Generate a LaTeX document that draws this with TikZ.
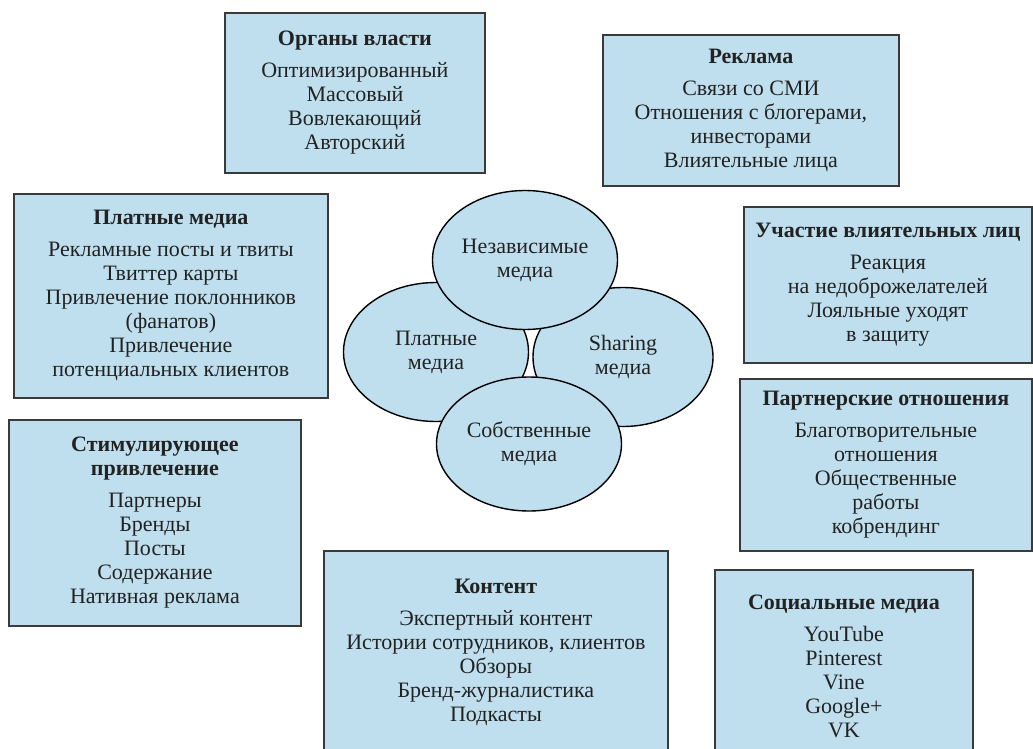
\documentclass[tikz,border=0pt]{standalone}
\usepackage{fontspec}
\setmainfont{Liberation Serif}
\usetikzlibrary{shapes.geometric}
\definecolor{panel-fill}{RGB}{191,223,238}
\definecolor{panel-line}{RGB}{58,58,58}
\definecolor{ink}{RGB}{34,34,34}

\begin{document}
\begin{tikzpicture}[x=0.5pt, y=-0.5pt, font=\fontsize{11}{12}\selectfont, text=ink,
panel/.style 2 args={draw=panel-line, line width=0.9pt, fill=panel-fill, align=center, anchor=north west, inner sep=0pt, minimum width=#1, minimum height=#2},
blob/.style={ellipse, draw=black, line width=0.7pt, fill=panel-fill, align=center, inner sep=0pt, minimum width=92.5pt, minimum height=69.5pt}]
\useasboundingbox (0,0) rectangle (1033,749);
\clip (0,0) rectangle (1033,749);

% panels
\node [panel={130pt}{80pt}] (organy) at (224,12) {\textbf{Органы власти}\\[4pt]
Оптимизированный\\ Массовый\\ Вовлекающий\\ Авторский};
\node [panel={148pt}{75.5pt}] (reklama) at (602,34) {\textbf{Реклама}\\[4pt]
Связи со СМИ\\ Отношения с блогерами,\\ инвесторами\\ Влиятельные лица};
\node [panel={157pt}{102pt}] (platnye) at (13,193) {\textbf{Платные медиа}\\[4pt]
Рекламные посты и твиты\\ Твиттер карты\\ Привлечение поклонников\\ (фанатов)\\ Привлечение\\ потенциальных клиентов};
\node [panel={144pt}{78pt}] (uchastie) at (743,206) {\textbf{Участие влиятельных лиц}\\[4pt]
Реакция\\ на недоброжелателей\\ Лояльные уходят\\ в защиту};
\node [panel={146pt}{86pt}] (partner) at (739,378) {\textbf{Партнерские отношения}\\[4pt]
Благотворительные\\ отношения\\ Общественные\\ работы\\ кобрендинг};
\node [panel={146pt}{103pt}] (stimul) at (8,419) {\textbf{Стимулирующее}\\ \textbf{привлечение}\\[4pt]
Партнеры\\ Бренды\\ Посты\\ Содержание\\ Нативная реклама};
\node [panel={172pt}{102pt}] (kontent) at (323,550) {\textbf{Контент}\\[4pt]
Экспертный контент\\ Истории сотрудников, клиентов\\ Обзоры\\ Бренд-журналистика\\ Подкасты};
\node [panel={129pt}{96pt}] (social) at (714,569) {\textbf{Социальные медиа}\\[4pt]
YouTube\\ Pinterest\\ Vine\\ Google+\\ VK};

% ellipses
\node [blob] (paid) at (436,352) {Платные\\ медиа};
\node [blob, minimum width=90pt] (sharing) at (623,357) {Sharing\\ медиа};
\node [blob] (indep) at (525,260) {Независимые\\ медиа};
\node [blob, minimum height=67pt] (owned) at (529,444) {Собственные\\ медиа};
\end{tikzpicture}
\end{document}
